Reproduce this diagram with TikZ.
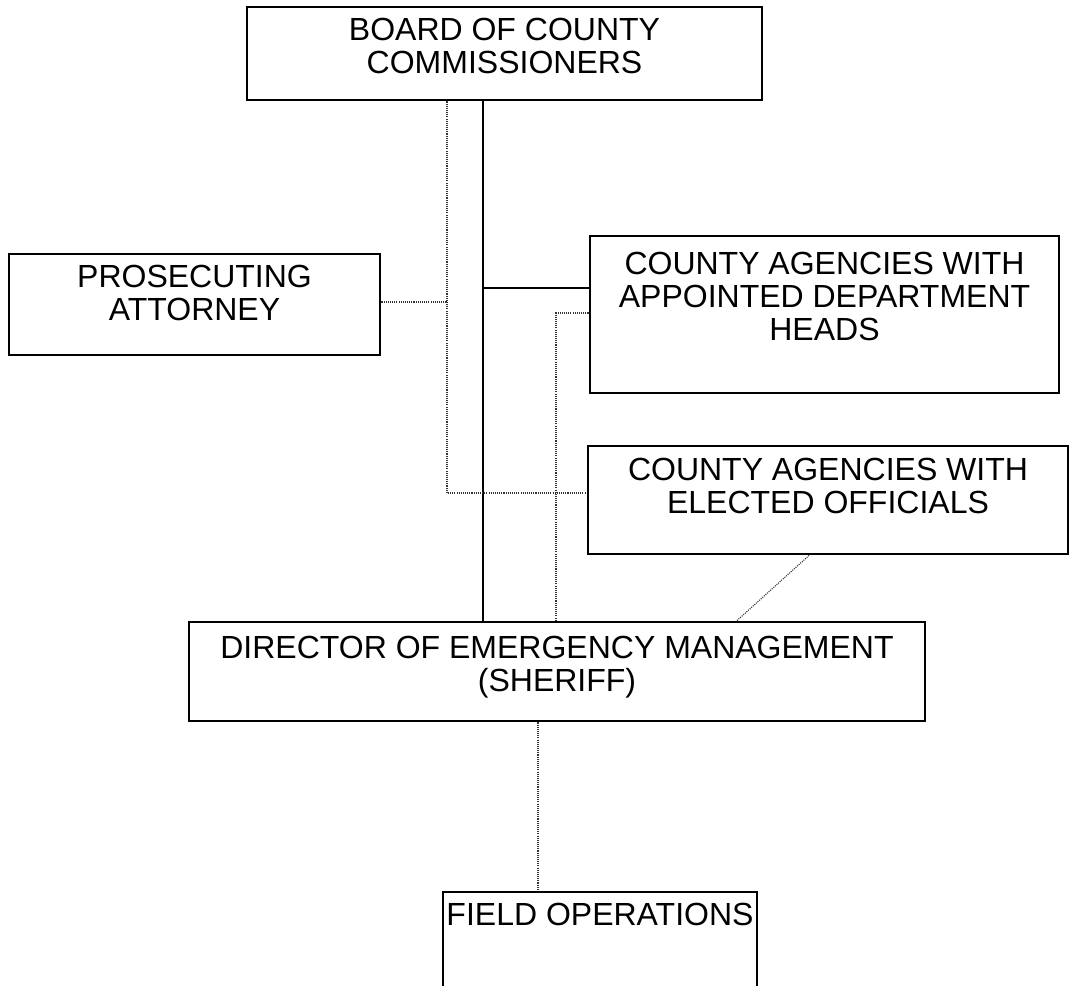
\documentclass[tikz,border=0pt]{standalone}
\usepackage{fontspec}
\setmainfont{Liberation Sans}
\begin{document}
\begin{tikzpicture}[x=0.75pt,y=-0.75pt,
  box/.style={draw=black,line width=2.2pt,rectangle,inner sep=0pt,fill=none},
  txt/.style={anchor=north,align=center,inner sep=0pt,font=\fontsize{24}{24.75}\selectfont},
  solidline/.style={draw=black,line width=2.1pt},
  dotline/.style={draw=black!80,line width=0.8pt,dash pattern=on 0.8pt off 0.8pt}]
\useasboundingbox (0,0) rectangle (1070,985);
\clip (0,0) rectangle (1070,985);
% boxes
\node[box,minimum width=386.25pt,minimum height=69.75pt] (board) at (504.5,53.5) {};
\node[box,minimum width=278.25pt,minimum height=75.75pt] (pros) at (194.5,304.5) {};
\node[box,minimum width=351.75pt,minimum height=117.75pt] (appt) at (824.5,314.5) {};
\node[box,minimum width=360pt,minimum height=81pt] (elect) at (828,500) {};
\node[box,minimum width=552pt,minimum height=74.25pt] (dir) at (557,671.5) {};
\node[box,minimum width=235.5pt,minimum height=81pt] (field) at (600,946) {};
% texts
\node[txt] (boardt) at (504.5,18) {BOARD OF COUNTY\\COMMISSIONERS};
\node[txt] (prost) at (194.5,265) {PROSECUTING\\ATTORNEY};
\node[txt] (apptt) at (824.5,252) {COUNTY AGENCIES WITH\\APPOINTED DEPARTMENT\\HEADS};
\node[txt] (electt) at (828,458) {COUNTY AGENCIES WITH\\ELECTED OFFICIALS};
\node[txt] (dirt) at (557,636) {DIRECTOR OF EMERGENCY MANAGEMENT\\(SHERIFF)};
\node[txt] (fieldt) at (600,903) {FIELD OPERATIONS};
% junction coordinates
\coordinate (j1) at (483,288);
\coordinate (j2) at (447,302);
\coordinate (j3) at (447,493);
\coordinate (j4) at (556,313);
\coordinate (j5) at (809,554);
\coordinate (j6) at (737,622);
\coordinate (j7) at (538,721);
% solid connectors
\draw[solidline] (board.south -| j1) -- (dir.north -| j1);
\draw[solidline] (j1) -- (appt.west |- j1);
% dotted connectors
\draw[dotline] (board.south -| j2) -- (j3) -- (elect.west |- j3);
\draw[dotline] (pros.east |- j2) -- (j2);
\draw[dotline] (appt.west |- j4) -- (j4) -- (dir.north -| j4);
\draw[dotline] (elect.south -| j5) -- (dir.north -| j6);
\draw[dotline] (dir.south -| j7) -- (field.north -| j7);
\end{tikzpicture}
\end{document}
